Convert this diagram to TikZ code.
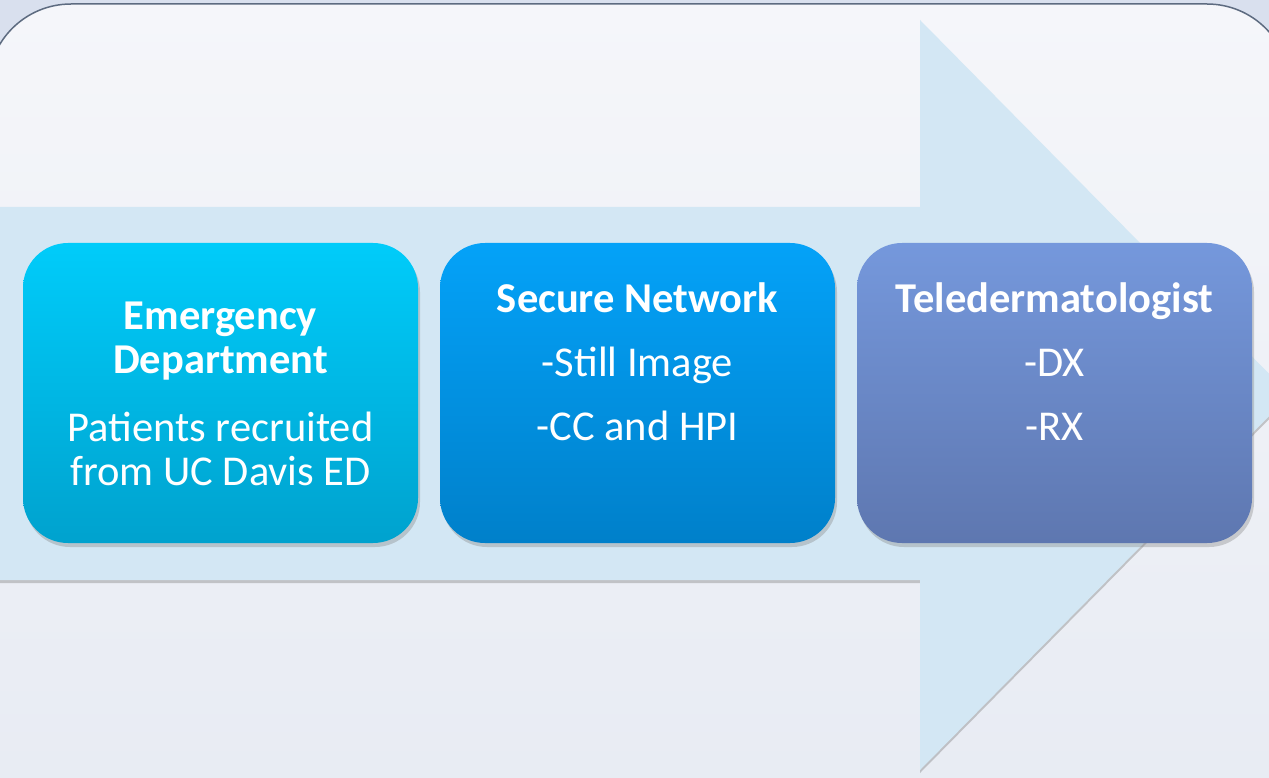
\documentclass[tikz,border=0pt]{standalone}
\usepackage{fontspec}
\setmainfont{Carlito}
\usetikzlibrary{shadows}

\definecolor{outside}{HTML}{D9E0EE}
\definecolor{frameline}{HTML}{5D6B80}
\definecolor{bgtop}{HTML}{F5F6FA}
\definecolor{bgbottom}{HTML}{E6EAF2}
\definecolor{arrowfill}{HTML}{D3E7F4}
\definecolor{edtop}{HTML}{00CCFA}
\definecolor{edbottom}{HTML}{00A2CE}
\definecolor{nettop}{HTML}{04A2F8}
\definecolor{netbottom}{HTML}{0080CA}
\definecolor{dermtop}{HTML}{7598DC}
\definecolor{dermbottom}{HTML}{5E77B0}

\tikzset{
  stage/.style 2 args={rounded corners=45pt, minimum width=395pt, minimum height=300pt,
    top color=#1, bottom color=#2, draw=none,
    drop shadow={opacity=0.35, shadow xshift=2pt, shadow yshift=-4pt}},
  title/.style={text=white, align=center, anchor=base,
    font=\fontsize{42.5}{44}\selectfont\bfseries},
  body/.style={text=white, align=center, anchor=base,
    font=\fontsize{42.5}{44}\selectfont}
}

\begin{document}
\begin{tikzpicture}[x=1pt, y=-1pt]
\useasboundingbox (0,0) rectangle (1269,778);
\clip (0,0) rectangle (1269,778);

% === Background ===
\fill[outside] (0,0) rectangle (1269,778);
\shade[top color=bgtop, bottom color=bgbottom, draw=frameline, line width=1.5pt,
  rounded corners=83pt] (-12,4) rectangle (1290,900);

% === Big arrow ===
\fill[arrowfill, drop shadow={opacity=0.4, shadow xshift=0pt, shadow yshift=-3pt}]
  (-20,207) -- (920,207) -- (920,20) -- (1290,395) -- (920,770) -- (920,580)
  -- (-20,580) -- cycle;

% === Stages ===
\node[stage={edtop}{edbottom}]     (ED)   at (220.5,393) {};
\node[stage={nettop}{netbottom}]   (Net)  at (637.5,393) {};
\node[stage={dermtop}{dermbottom}] (Derm) at (1054.5,393) {};

% === Texts (base = last line) ===
\node[title] (ED-title)   at (220.5,373)  {Emergency\\Department};
\node[body]  (ED-body)    at (220.5,485)  {Patients recruited\\from UC Davis ED};
\node[title] (Net-title)  at (637.5,312)  {Secure Network};
\node[body]  (Net-body)   at (637.5,440)  {-Still Image\\[20pt]-CC and HPI};
\node[title] (Derm-title) at (1054.5,312) {Teledermatologist};
\node[body]  (Derm-body)  at (1054.5,440) {-DX\\[20pt]-RX};
\end{tikzpicture}
\end{document}
